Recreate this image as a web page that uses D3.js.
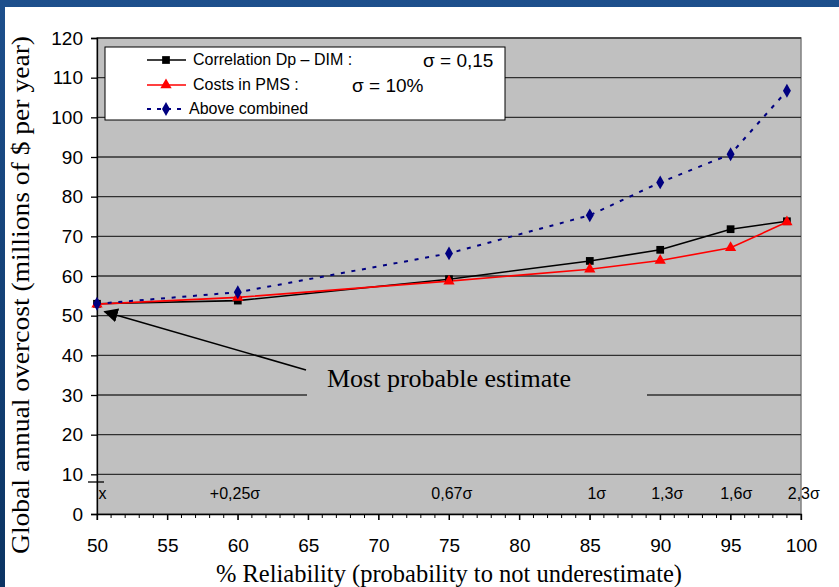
<!DOCTYPE html>
<html><head><meta charset="utf-8">
<script src="https://cdn.jsdelivr.net/npm/d3@7"></script>
<style>html,body{margin:0;padding:0;background:#fff;}svg{display:block;}</style>
</head><body>
<svg id="chart" width="839" height="587"></svg>
<script>
// ---- data ----
const reliability = [50, 60, 75, 85, 90, 95, 99];
const correlation = [53.0, 53.8, 59.2, 63.8, 66.6, 71.8, 73.8];
const costs       = [52.9, 54.6, 58.7, 61.7, 63.9, 67.1, 73.6];
const combined    = [53.0, 55.9, 65.7, 75.3, 83.6, 90.7, 106.7];
const xTicks = [50, 55, 60, 65, 70, 75, 80, 85, 90, 95, 100];
const yTicks = [0, 10, 20, 30, 40, 50, 60, 70, 80, 90, 100, 110, 120];
const sigmaAt = [59.8, 75.2, 85.5, 90.5, 95.4, 100.2];
const sigmaText = ["+0,25σ", "0,67σ", "1σ", "1,3σ", "1,6σ", "2,3σ"];
const seriesNames = ["Correlation Dp – DIM :", "Costs in PMS :", "Above combined"];
const seriesSigma = ["σ = 0,15", "σ = 10%", ""];

const svg = d3.select("#chart");
const W = 839, H = 587;
const m = {left: 97, right: 801, top: 38, bottom: 514};
const x = d3.scaleLinear().domain([50, 100]).range([m.left, m.right]);
const y = d3.scaleLinear().domain([0, 120]).range([m.bottom, m.top]);
const SANS = "'Liberation Sans', Arial, sans-serif";
const SERIF = "'Liberation Serif', 'Times New Roman', serif";

// background
const defs = svg.append("defs");
const g1 = defs.append("linearGradient").attr("id","bg").attr("x1","0").attr("y1","0").attr("x2","0").attr("y2","1");
g1.append("stop").attr("offset","0").attr("stop-color","#1d4f8c");
g1.append("stop").attr("offset","1").attr("stop-color","#0b3463");
svg.append("rect").attr("width",W).attr("height",H).attr("fill","url(#bg)");
svg.append("rect").attr("x",5).attr("y",7).attr("width",W-5).attr("height",H-7).attr("fill","#fff");

// plot area
svg.append("rect").attr("x",m.left).attr("y",m.top).attr("width",m.right-m.left).attr("height",m.bottom-m.top)
  .attr("fill","#c0c0c0").attr("stroke","#808080").attr("stroke-width",1.5);

// gridlines
svg.append("g").selectAll("line").data(yTicks.filter(d=>d>0)).join("line")
  .attr("x1",m.left).attr("x2",m.right).attr("y1",d=>y(d)).attr("y2",d=>y(d))
  .attr("stroke","#303030").attr("stroke-width",1.3);

// y axis
const yAxis = svg.append("g").attr("transform",`translate(${m.left},0)`)
  .call(d3.axisLeft(y).tickValues(yTicks).tickSize(6).tickPadding(8));
yAxis.select(".domain").attr("stroke","#000").attr("stroke-width",1.3);
yAxis.selectAll(".tick line").attr("stroke","#000").attr("stroke-width",1.3);
yAxis.selectAll("text").attr("font-family",SANS).attr("font-size",19).attr("fill","#000");

// x axis
const xMinor = d3.range(50, 101, 1);
svg.append("g").selectAll("line").data(xMinor).join("line")
  .attr("x1",d=>x(d)).attr("x2",d=>x(d)).attr("y1",m.bottom).attr("y2",d=>m.bottom+(d%5===0?6:4))
  .attr("stroke","#000").attr("stroke-width",1);
const xAxis = svg.append("g").attr("transform",`translate(0,${m.bottom})`)
  .call(d3.axisBottom(x).tickValues(xTicks).tickSize(6).tickPadding(19));
xAxis.select(".domain").attr("stroke","#000").attr("stroke-width",1.3);
xAxis.selectAll(".tick line").attr("stroke","#000");
xAxis.selectAll("text").attr("font-family",SANS).attr("font-size",19).attr("fill","#000");

// sigma labels
svg.append("g").selectAll("text").data(sigmaText).join("text")
  .attr("x",(d,i)=>x(sigmaAt[i])).attr("y",y(5.3)+6).attr("text-anchor","middle")
  .attr("font-family",SANS).attr("font-size",16).attr("fill","#000").text(d=>d);
svg.append("text").attr("x",x(50.1)).attr("y",y(5.3)+6).attr("font-family",SANS).attr("font-size",16).text("x");
svg.append("line").attr("x1",88).attr("x2",104).attr("y1",482).attr("y2",482).attr("stroke","#000").attr("stroke-width",1.3);

// annotation box + arrow
svg.append("rect").attr("x",307).attr("y",362).attr("width",340).attr("height",38).attr("fill","#c0c0c0");
defs.append("marker").attr("id","arr").attr("viewBox","0 0 10 10").attr("refX",9).attr("refY",5)
  .attr("markerWidth",9).attr("markerHeight",9).attr("orient","auto")
  .append("path").attr("d","M0,0 L10,5 L0,10 z").attr("fill","#000");
svg.append("line").attr("x1",306).attr("y1",370).attr("x2",x(50.55)).attr("y2",y(51))
  .attr("stroke","#000").attr("stroke-width",1.6).attr("marker-end","url(#arr)");
svg.append("text").attr("x",327).attr("y",387).attr("font-family",SERIF).attr("font-size",26).attr("fill","#000")
  .text("Most probable estimate");

// series
const line = d3.line().x((d,i)=>x(reliability[i])).y(d=>y(d));
svg.append("path").datum(correlation).attr("d",line).attr("fill","none").attr("stroke","#000").attr("stroke-width",1.6);
svg.append("path").datum(costs).attr("d",line).attr("fill","none").attr("stroke","#ff0000").attr("stroke-width",1.6);
svg.append("path").datum(combined).attr("d",line).attr("fill","none").attr("stroke","#000080").attr("stroke-width",2).attr("stroke-dasharray","4,6.7");

const sq = d3.symbol().type(d3.symbolSquare).size(60);
const tri = d3.symbol().type(d3.symbolTriangle).size(55);
const dia = d3.symbol().type(d3.symbolDiamond).size(55);
svg.append("g").selectAll("path").data(correlation).join("path").attr("d",sq)
  .attr("transform",(d,i)=>`translate(${x(reliability[i])},${y(d)})`).attr("fill","#000");
svg.append("g").selectAll("path").data(costs).join("path").attr("d",tri)
  .attr("transform",(d,i)=>`translate(${x(reliability[i])},${y(d)})`).attr("fill","#ff0000");
svg.append("g").selectAll("path").data(combined).join("path").attr("d",dia)
  .attr("transform",(d,i)=>`translate(${x(reliability[i])},${y(d)})`).attr("fill","#000080");

// legend
svg.append("rect").attr("x",105).attr("y",47).attr("width",400).attr("height",73)
  .attr("fill","#fff").attr("stroke","#000").attr("stroke-width",1);
const rows = [60, 85, 109];
const styles = [
  {stroke:"#000", dash:null, sym:sq, fill:"#000", w:1.6},
  {stroke:"#ff0000", dash:null, sym:tri, fill:"#ff0000", w:1.6},
  {stroke:"#000080", dash:"4,6", sym:dia, fill:"#000080", w:2}
];
seriesNames.forEach((n,i)=>{
  const s = styles[i];
  svg.append("line").attr("x1",147).attr("x2",186).attr("y1",rows[i]).attr("y2",rows[i])
    .attr("stroke",s.stroke).attr("stroke-width",s.w).attr("stroke-dasharray",s.dash);
  svg.append("path").attr("d",s.sym).attr("transform",`translate(166,${rows[i]})`).attr("fill",s.fill);
  svg.append("text").attr("x",i===2?189:193).attr("y",rows[i]+5).attr("font-family",SANS).attr("font-size",16).text(n);
});
svg.append("text").attr("x",423).attr("y",67).attr("font-family",SANS).attr("font-size",19).text(seriesSigma[0]);
svg.append("text").attr("x",352).attr("y",92).attr("font-family",SANS).attr("font-size",19).text(seriesSigma[1]);

// axis titles
svg.append("text").attr("transform",`translate(29,295) rotate(-90)`).attr("text-anchor","middle")
  .attr("font-family",SERIF).attr("font-size",25).attr("fill","#000")
  .attr("textLength",518).attr("lengthAdjust","spacingAndGlyphs")
  .text("Global annual overcost (millions of $ per year)");
svg.append("text").attr("x",449).attr("y",582).attr("text-anchor","middle")
  .attr("font-family",SERIF).attr("font-size",24.5).attr("fill","#000")
  .text("% Reliability (probability to not underestimate)");
</script>
</body></html>
